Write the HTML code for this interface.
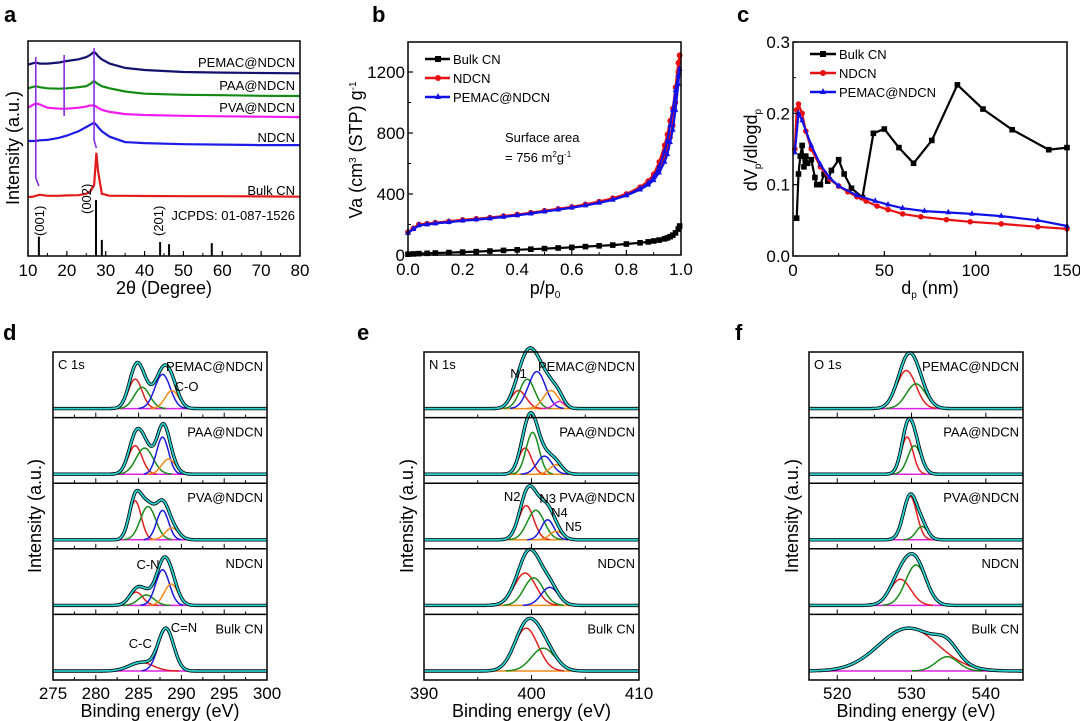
<!DOCTYPE html>
<html><head><meta charset="utf-8"><style>
body{margin:0;background:#fff}
svg{display:block;font-family:"Liberation Sans",sans-serif}
</style></head><body>
<svg id="fig" width="1080" height="721" viewBox="0 0 1080 721"></svg>
<script>
// ---------- data ----------
const xrdX=[10,11,12,13,15,18,20,23,25,26,27,27.6,28,29,31,35,40,50,60,70,80];
const xrdBulk=[27.5,27.5,28,28.5,28,28,28.2,28.3,29,30,33,48,40,29,28,28,27.9,27.8,27.8,27.7,27.6];
const xrdNDCN=[53.5,53.5,53.5,53.8,54,55,56,58,60,61,62,61,60,58,55.5,53,52.5,52,51.8,51.6,51.6];
const xrdPVA=[69,70,71,70.5,69,68.5,68.5,69,69.5,70,70,69.5,69,68,67,66,65.6,65.2,65,64.8,64.6];
const xrdPAA=[78,78.5,79,78.5,78,77.8,78,78.5,79,80,81.4,80.5,80,79,78,76.5,75.5,75,74.8,74.5,74.4];
const xrdPEMAC=[89,89.5,90,89.5,89.5,90,90.7,91.5,92.5,93.5,95,94,93,91.5,89.5,87.5,86.5,85.6,85.3,85.1,85];
const xrdCurves=[["bulk-cn",xrdBulk,"#e21c1c"],["ndcn",xrdNDCN,"#1c1ce6"],["pva-ndcn",xrdPVA,"#f01cf0"],["paa-ndcn",xrdPAA,"#138a13"],["pemac-ndcn",xrdPEMAC,"#12126e"]];
const refPos=[12.8,27.5,29,44,46.3,57.3];
const refH=[9,26,7.5,6.5,5.5,6];

const bX=[0,0.02,0.04,0.07,0.1,0.15,0.2,0.25,0.3,0.35,0.4,0.45,0.5,0.55,0.6,0.65,0.7,0.75,0.8,0.85,0.88,0.9,0.92,0.94,0.95,0.96,0.97,0.98,0.99,0.995];
const bNDCN=[150,175,200,205,212,220,230,237,245,255,265,277,290,302,315,332,350,372,400,440,475,510,560,640,700,770,850,1000,1200,1310];
const bNDCNdes=[150,175,200,205,212,220,230,237,245,255,265,277,290,302,315,332,350,372,400,445,485,530,610,720,790,880,960,1100,1260,1310];
const bPEMAC=[145,170,195,200,207,215,225,232,240,250,260,272,285,297,310,325,342,362,390,428,460,490,540,610,660,740,820,950,1120,1220];
const bPEMACdes=[145,170,195,200,207,215,225,232,240,250,260,272,285,297,310,325,342,362,392,435,470,510,580,680,750,850,950,1080,1180,1220];
const bBulk=[5,7,9,11,13,16,19,22,26,30,34,38,42,46,50,55,60,65,72,80,86,92,98,106,112,120,130,145,170,190];

const cBulkX=[2,3,4,5,6,7,8,10,12,13,15,17,19,21,25,28,32,38,44,50,58,66,76,90,104,120,140,150];
const cBulkY=[0.053,0.115,0.14,0.155,0.125,0.14,0.13,0.135,0.11,0.1,0.1,0.115,0.105,0.12,0.135,0.115,0.095,0.082,0.172,0.178,0.152,0.13,0.162,0.24,0.206,0.177,0.149,0.152];
const cNX=[1,2,3,5,7,10,15,20,25,30,35,40,46,52,60,70,84,97,114,134,150];
const cNY=[0.15,0.205,0.213,0.2,0.175,0.15,0.125,0.108,0.098,0.09,0.083,0.077,0.07,0.065,0.059,0.055,0.051,0.048,0.045,0.041,0.038];
const cPX=[1,3,5,10,15,20,25,35,45,52,60,72,85,98,114,134,150];
const cPY=[0.145,0.2,0.19,0.155,0.128,0.11,0.098,0.085,0.077,0.072,0.067,0.063,0.061,0.059,0.056,0.05,0.042];

const xpsRows=["PEMAC@NDCN","PAA@NDCN","PVA@NDCN","NDCN","Bulk CN"];
// peaks: [center, height(0-1), sigma, color]
const dPeaks=[
 [[284.6,.62,.8,"#e02020"],[285.4,.45,.9,"#1a8a1a"],[287.8,.72,.9,"#1a1ae0"],[288.9,.38,.8,"#f08a1a"]],
 [[284.6,.6,.8,"#e02020"],[285.7,.55,1,"#1a8a1a"],[287.8,.78,.7,"#1a1ae0"],[288.5,.32,.8,"#f08a1a"]],
 [[284.6,.82,.7,"#e02020"],[286.1,.7,.9,"#1a8a1a"],[287.8,.62,.7,"#1a1ae0"],[288.9,.25,.8,"#f08a1a"]],
 [[284.7,.28,.8,"#e02020"],[285.9,.22,.9,"#1a8a1a"],[287.8,.75,.8,"#1a1ae0"],[288.8,.45,.8,"#f08a1a"]],
 [[285.3,.18,1.4,"#e02020"],[288.2,.88,.9,"#1a1ae0"]]];
const ePeaks=[
 [[398.8,.38,.7,"#e02020"],[399.6,.62,.7,"#1a8a1a"],[400.5,.78,.8,"#1a1ae0"],[401.8,.38,.7,"#f08a1a"],[402.6,.15,.5,"#e020e0"]],
 [[399.4,.55,.6,"#e02020"],[400.1,.88,.6,"#1a8a1a"],[401.2,.38,.7,"#1a1ae0"],[402.3,.2,.6,"#f08a1a"]],
 [[399.5,.72,.7,"#e02020"],[400.4,.62,.8,"#1a8a1a"],[401.5,.42,.6,"#1a1ae0"],[402.3,.18,.6,"#f08a1a"]],
 [[399.4,.68,1,"#e02020"],[400.2,.58,.9,"#1a8a1a"],[401.7,.38,.8,"#1a1ae0"]],
 [[399.5,.9,1.1,"#e02020"],[401.1,.48,1.1,"#1a8a1a"]]];
const fPeaks=[
 [[529.3,.8,1.3,"#e02020"],[530.6,.52,1.3,"#1a8a1a"]],
 [[529.4,.78,.8,"#e02020"],[530.4,.6,.9,"#1a8a1a"]],
 [[529.8,.92,.9,"#e02020"],[531.4,.28,.8,"#1a8a1a"]],
 [[528.5,.55,1.4,"#e02020"],[530.6,.85,1.4,"#1a8a1a"]],
 [[529.6,.9,4,"#e02020"],[534.8,.3,1.5,"#1a8a1a"]]];

// ---------- helpers ----------
const NS="http://www.w3.org/2000/svg", svg=document.getElementById("fig");
function mk(tag,attrs,parent,text){const e=document.createElementNS(NS,tag);for(const k in attrs)e.setAttribute(k,attrs[k]);if(text!==undefined)e.textContent=text;(parent||svg).appendChild(e);return e;}
function lin(d0,d1,r0,r1){return v=>r0+(v-d0)/(d1-d0)*(r1-r0);}
function poly(xs,ys,sx,sy){return xs.map((x,i)=>sx(x).toFixed(1)+","+sy(ys[i]).toFixed(1)).join(" ");}
function txt(x,y,s,size,opts){opts=opts||{};const t=mk("text",Object.assign({x:x,y:y,"font-size":size,fill:"#000"},opts.a||{}),opts.p,s);return t;}
function frame(x0,y0,x1,y1,name){const r=mk("rect",{x:x0,y:y0,width:x1-x0,height:y1-y0,fill:"none",stroke:"#000","stroke-width":1.5});}
function xticks(sx,vals,minor,y,labels,size,g){vals.forEach((v,i)=>{mk("line",{x1:sx(v),x2:sx(v),y1:y,y2:y-5,stroke:"#000","stroke-width":1.2},g);if(labels){txt(sx(v),y+20,labels[i],size,{a:{"text-anchor":"middle"},p:g});}});minor.forEach(v=>mk("line",{x1:sx(v),x2:sx(v),y1:y,y2:y-3,stroke:"#000","stroke-width":1},g));}
function yticks(sy,vals,minor,x,labels,size,g){vals.forEach((v,i)=>{mk("line",{x1:x,x2:x+5,y1:sy(v),y2:sy(v),stroke:"#000","stroke-width":1.2},g);txt(x-3,sy(v)+6,labels[i],size,{a:{"text-anchor":"end"},p:g});});minor.forEach(v=>mk("line",{x1:x,x2:x+3,y1:sy(v),y2:sy(v),stroke:"#000","stroke-width":1},g));}
function markers(xs,ys,sx,sy,shape,color,g,r){xs.forEach((x,i)=>{const cx=sx(x),cy=sy(ys[i]);if(shape==="sq")mk("rect",{x:cx-r,y:cy-r,width:2*r,height:2*r,fill:color},g);else if(shape==="ci")mk("circle",{cx:cx,cy:cy,r:r,fill:color},g);else mk("polygon",{points:`${cx},${cy-r-1} ${cx-r},${cy+r-1} ${cx+r},${cy+r-1}`,fill:color},g);});}

// panel letters
[["a",4,22],["b",372,22],["c",737,22],["d",3,340],["e",357,340],["f",735,340]].forEach(p=>{const t=txt(p[1],p[2],p[0],22,{a:{"font-weight":"bold"}});});

// ---------- panel a ----------
(function(){
const g=mk("g",{});
const sx=lin(10,80,28,300), sy=lin(0,100,256,41);
xrdCurves.forEach(c=>{const p=mk("polyline",{points:poly(xrdX,c[1],sx,sy),fill:"none",stroke:c[2],"stroke-width":2.2},g);});
refPos.forEach((v,i)=>{const l=mk("line",{x1:sx(v),x2:sx(v),y1:256,y2:sy(refH[i]),stroke:"#000","stroke-width":2},g);});
mk("polyline",{points:`${sx(12)},57 ${sx(12)},178 ${sx(12.8)},186`,fill:"none",stroke:"#8a2be2","stroke-width":1.6},g);
mk("line",{x1:sx(19.3),x2:sx(19.3),y1:55,y2:116,stroke:"#8a2be2","stroke-width":1.6},g);
mk("polyline",{points:`${sx(27)},48 ${sx(27)},140 ${sx(27.6)},148`,fill:"none",stroke:"#8a2be2","stroke-width":1.6},g);
[["PEMAC@NDCN",67],["PAA@NDCN",90],["PVA@NDCN",112],["NDCN",142],["Bulk CN",195]].forEach(l=>txt(295,l[1],l[0],13,{a:{"text-anchor":"end"},p:g}));
txt(295,220,"JCPDS: 01-087-1526",13,{a:{"text-anchor":"end"},p:g});
[["(001)",44,236],["(002)",91,214],["(201)",163,236]].forEach(l=>txt(l[1],l[2],l[0],13,{a:{transform:`rotate(-90 ${l[1]} ${l[2]})`},p:g}));
xticks(sx,[10,20,30,40,50,60,70,80],[15,25,35,45,55,65,75],256,["10","20","30","40","50","60","70","80"],17,g);
frame(28,41,300,256,'panel-a-frame');
txt(164,294,"2θ (Degree)",18,{a:{"text-anchor":"middle"},p:g});
txt(19,148,"Intensity (a.u.)",18,{a:{"text-anchor":"middle",transform:"rotate(-90 19 148)"},p:g});
})();

// ---------- panel b ----------
(function(){
const g=mk("g",{});
const sx=lin(0,1,408,681), sy=lin(0,1200,255,72);
[[bBulk,null,"#000","sq","bulk-cn"],[bNDCN,bNDCNdes,"#e81010","ci","ndcn"],[bPEMAC,bPEMACdes,"#1010e8","tr","pemac-ndcn"]].forEach(s=>{
 const p=mk("polyline",{points:poly(bX,s[0],sx,sy),fill:"none",stroke:s[2],"stroke-width":2.2},g);
 markers(bX,s[0],sx,sy,s[3],s[2],g,2.8);
 if(s[1]){mk("polyline",{points:poly(bX,s[1],sx,sy),fill:"none",stroke:s[2],"stroke-width":2.2},g);markers(bX,s[1],sx,sy,s[3],s[2],g,2.8);}
});
xticks(sx,[0,.2,.4,.6,.8,1],[.1,.3,.5,.7,.9],255,["0.0","0.2","0.4","0.6","0.8","1.0"],17,g);
yticks(sy,[0,400,800,1200],[200,600,1000],408,["0","400","800","1200"],17,g);
frame(408,42,681,255,'panel-b-frame');
[["Bulk CN","#000","sq",59],["NDCN","#e81010","ci",78],["PEMAC@NDCN","#1010e8","tr",97]].forEach(l=>{const e=mk("g",{},g);mk("line",{x1:425,x2:450,y1:l[3],y2:l[3],stroke:l[1],"stroke-width":2.5},e);markers([0],[0],()=>438,()=>l[3],l[2],l[1],e,3);txt(453,l[3]+5,l[0],13,{p:e});});
txt(505,142,"Surface area",13,{p:g});
const t=txt(505,162,"= 756 m",13,{p:g});mk("tspan",{dy:-5,"font-size":8},t,"2");mk("tspan",{dy:5,"font-size":13},t,"g");mk("tspan",{dy:-5,"font-size":8},t,"-1");
const yt=txt(362,150,"Va (cm",18,{a:{"text-anchor":"middle",transform:"rotate(-90 362 150)"},p:g});mk("tspan",{dy:-6,"font-size":10},yt,"3");mk("tspan",{dy:6,"font-size":18},yt," (STP) g");mk("tspan",{dy:-6,"font-size":10},yt,"-1");
const xt=txt(545,294,"p/p",18,{a:{"text-anchor":"middle"},p:g});mk("tspan",{dy:4,"font-size":10},xt,"0");
})();

// ---------- panel c ----------
(function(){
const g=mk("g",{});
const sx=lin(0,150,793,1067), sy=lin(0,0.3,256,42);
[[cBulkX,cBulkY,"#000","sq","bulk-cn"],[cNX,cNY,"#e81010","ci","ndcn"],[cPX,cPY,"#1010e8","tr","pemac-ndcn"]].forEach(s=>{
 const p=mk("polyline",{points:poly(s[0],s[1],sx,sy),fill:"none",stroke:s[2],"stroke-width":2.2},g);
 markers(s[0],s[1],sx,sy,s[3],s[2],g,2.8);});
xticks(sx,[0,50,100,150],[25,75,125],256,["0","50","100","150"],17,g);
yticks(sy,[0,.1,.2,.3],[.05,.15,.25],793,["0.0","0.1","0.2","0.3"],17,g);
frame(793,42,1067,256,'panel-c-frame');
[["Bulk CN","#000","sq",54],["NDCN","#e81010","ci",73],["PEMAC@NDCN","#1010e8","tr",92]].forEach(l=>{const e=mk("g",{},g);mk("line",{x1:810,x2:836,y1:l[3],y2:l[3],stroke:l[1],"stroke-width":2.5},e);markers([0],[0],()=>823,()=>l[3],l[2],l[1],e,3);txt(839,l[3]+5,l[0],13,{p:e});});
const yt=txt(757,150,"dV",18,{a:{"text-anchor":"middle",transform:"rotate(-90 757 150)"},p:g});mk("tspan",{dy:4,"font-size":10},yt,"p");mk("tspan",{dy:-4,"font-size":18},yt,"/dlogd");mk("tspan",{dy:4,"font-size":10},yt,"p");
const xt=txt(930,294,"d",18,{a:{"text-anchor":"middle"},p:g});mk("tspan",{dy:4,"font-size":10},xt,"p");mk("tspan",{dy:-4,"font-size":18},xt," (nm)");
})();

// ---------- XPS panels ----------
function xps(name,x0,x1,e0,e1,peaks,ticks,minor,tlabels,core,baseCol,extra,ytx){
 const g=mk("g",{});
 const sx=lin(e0,e1,x0,x1);const top=352,bot=680,h=(bot-top)/5;
 peaks.forEach((pk,r)=>{
  const yb=top+h*(r+1)-9, amp=h-18, sy=v=>yb-v*amp;
  const xs=[];for(let i=0;i<=200;i++)xs.push(e0+(e1-e0)*i/200);
  const gauss=(p,x)=>p[1]*Math.exp(-((x-p[0])**2)/(2*p[2]*p[2]));
  const lo=Math.min(...pk.map(p=>p[0]-3*p[2])),hi=Math.max(...pk.map(p=>p[0]+3*p[2]));
  mk("line",{x1:sx(lo),x2:sx(hi),y1:yb,y2:yb,stroke:baseCol,"stroke-width":1.5},g);
  pk.forEach(p=>{const px=xs.filter(x=>x>=p[0]-3.2*p[2]&&x<=p[0]+3.2*p[2]);const c=mk("polyline",{points:px.map(x=>sx(x).toFixed(1)+","+sy(gauss(p,x)).toFixed(1)).join(" "),fill:"none",stroke:p[3],"stroke-width":1.5},g);});
  const env=xs.map(x=>sx(x).toFixed(1)+","+sy(pk.reduce((s,p)=>s+gauss(p,x),0)).toFixed(1)).join(" ");
  const raw=mk("polyline",{points:env,fill:"none",stroke:"#000","stroke-width":3.4},g);
  const en=mk("polyline",{points:env,fill:"none",stroke:"#2ad0d0","stroke-width":1.8},g);
  txt(x1-4,top+h*r+19,xpsRows[r],13,{a:{"text-anchor":"end"},p:g});
  if(r>0)mk("line",{x1:x0,x2:x1,y1:top+h*r,y2:top+h*r,stroke:"#000","stroke-width":1.5},g);
  ticks.concat(minor).forEach(v=>mk("line",{x1:sx(v),x2:sx(v),y1:top+h*(r+1),y2:top+h*(r+1)-(ticks.includes(v)?5:3),stroke:"#000","stroke-width":1},g));
 });
 ticks.forEach((v,i)=>txt(sx(v),bot+19,tlabels[i],17,{a:{"text-anchor":"middle"},p:g}));
 frame(x0,top,x1,bot,'panel-'+name+'-frame');
 txt(x0+5,top+17,core,13,{p:g});
 extra.forEach(l=>txt(sx(l[1]),l[2],l[0],13,{a:{"text-anchor":"middle"},p:g}));
 txt((x0+x1)/2,bot+37,"Binding energy (eV)",18,{a:{"text-anchor":"middle"},p:g});
 txt(ytx,516,"Intensity (a.u.)",18,{a:{"text-anchor":"middle",transform:`rotate(-90 ${ytx} 516)`},p:g});
}
xps("d",53,267,275,300,dPeaks,[275,280,285,290,295,300],[277.5,282.5,287.5,292.5,297.5],["275","280","285","290","295","300"],"C 1s","#e020e0",[["C-O",290.6,391],["C-N",286.1,569],["C=N",290.3,632],["C-C",285.2,648]],41);
xps("e",424,639,390,410,ePeaks,[390,400,410],[395,405],["390","400","410"],"N 1s","#f08a1a",[["N1",398.8,378],["N2",398.2,501],["N3",401.5,503],["N4",402.6,517],["N5",403.9,531]],413);
xps("f",809,1023,516.2,545,fPeaks,[520,530,540],[525,535],["520","530","540"],"O 1s","#e020e0",[],798);
</script>
</body></html>
